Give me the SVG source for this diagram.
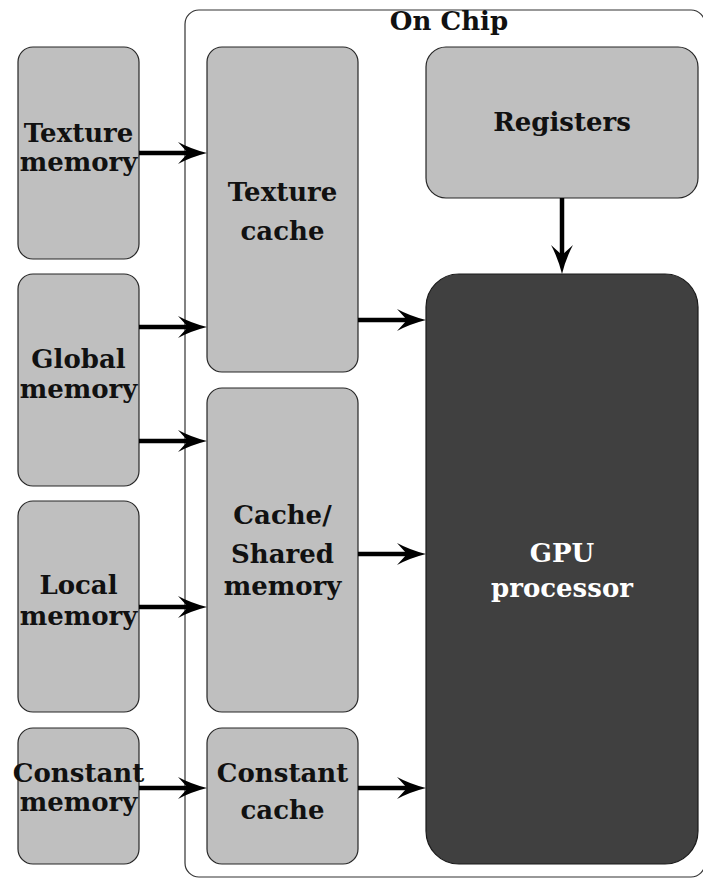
<svg xmlns="http://www.w3.org/2000/svg" width="703" height="878" viewBox="0 0 703 878">
<defs>
<style>
.box{fill:#bfbfbf;stroke:#262626;stroke-width:1.2}
.gpu{fill:#404040;stroke:#1a1a1a;stroke-width:1.2}
.t{font-family:"DejaVu Serif","Liberation Serif",serif;font-weight:bold;font-size:26px;fill:#111;text-anchor:middle}
.tw{fill:#ffffff}
.c{stroke:#000;stroke-width:4.5;fill:none;marker-end:url(#ah)}
</style>
<marker id="ah" viewBox="0 -12 30 24" refX="12" refY="0" markerWidth="30" markerHeight="24" markerUnits="userSpaceOnUse" orient="auto">
<path d="M0,-11 Q13,-4 29,0 Q13,4 0,11 L10,0 Z" fill="#000"/>
</marker>
</defs>
<rect width="703" height="878" fill="#fff"/>
<g id="onchip">
<rect x="185" y="10" width="520" height="867" rx="14" fill="none" stroke="#333" stroke-width="1.2"/>
<text class="t" x="449" y="30">On Chip</text>
</g>
<g id="texture-memory">
<rect class="box" x="18" y="47" width="121" height="212" rx="15"/>
<text class="t" x="78.5" y="142">Texture</text>
<text class="t" x="78.5" y="171">memory</text>
</g>
<g id="global-memory">
<rect class="box" x="18" y="274" width="121" height="212" rx="15"/>
<text class="t" x="78.5" y="368">Global</text>
<text class="t" x="78.5" y="398">memory</text>
</g>
<g id="local-memory">
<rect class="box" x="18" y="501" width="121" height="211" rx="15"/>
<text class="t" x="78.5" y="594">Local</text>
<text class="t" x="78.5" y="625">memory</text>
</g>
<g id="constant-memory">
<rect class="box" x="18" y="728" width="121" height="136" rx="15"/>
<text class="t" x="78.5" y="782">Constant</text>
<text class="t" x="78.5" y="811">memory</text>
</g>
<g id="texture-cache">
<rect class="box" x="207" y="47" width="151" height="325" rx="15"/>
<text class="t" x="282.5" y="201">Texture</text>
<text class="t" x="282.5" y="240">cache</text>
</g>
<g id="cache-shared">
<rect class="box" x="207" y="388" width="151" height="324" rx="15"/>
<text class="t" x="282.5" y="524">Cache/</text>
<text class="t" x="282.5" y="563">Shared</text>
<text class="t" x="282.5" y="595">memory</text>
</g>
<g id="constant-cache">
<rect class="box" x="207" y="728" width="151" height="136" rx="15"/>
<text class="t" x="282.5" y="782">Constant</text>
<text class="t" x="282.5" y="819">cache</text>
</g>
<g id="registers">
<rect class="box" x="426" y="47" width="272" height="151" rx="20"/>
<text class="t" x="562" y="131">Registers</text>
</g>
<g id="gpu">
<rect class="gpu" x="426" y="274" width="272" height="590" rx="33"/>
<text class="t tw" x="562" y="562">GPU</text>
<text class="t tw" x="562" y="597">processor</text>
</g>
<g id="connectors">
<line class="c" x1="139" y1="153" x2="190" y2="153"/>
<line class="c" x1="139" y1="327" x2="190" y2="327"/>
<line class="c" x1="139" y1="441" x2="190" y2="441"/>
<line class="c" x1="139" y1="607" x2="190" y2="607"/>
<line class="c" x1="139" y1="788" x2="190" y2="788"/>
<line class="c" x1="358" y1="320" x2="409" y2="320"/>
<line class="c" x1="358" y1="554" x2="409" y2="554"/>
<line class="c" x1="358" y1="788" x2="409" y2="788"/>
<line class="c" x1="562" y1="198" x2="562" y2="257"/>
</g>
</svg>
